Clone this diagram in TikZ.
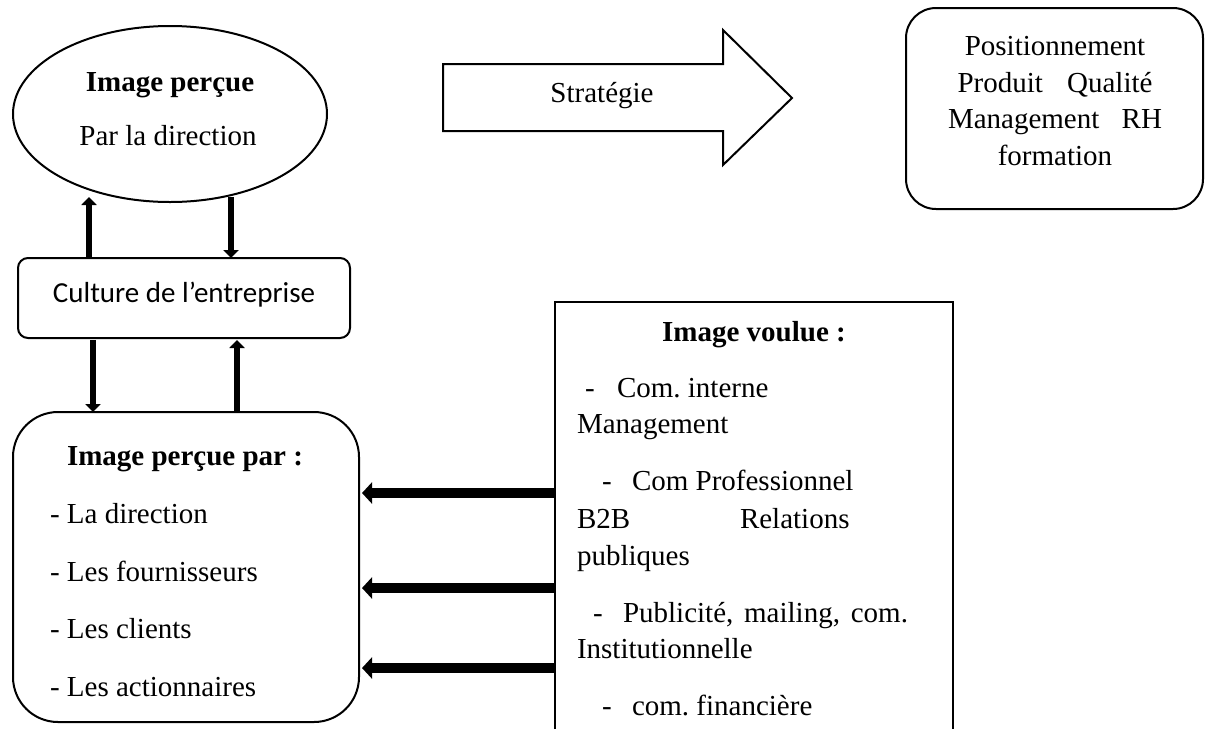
\documentclass[tikz,border=0pt]{standalone}
\usepackage{fontspec}
\setmainfont{Liberation Serif}
\newfontfamily\calib{Carlito}
\usetikzlibrary{arrows.meta,shapes.geometric}
\frenchspacing
\begin{document}
\begin{tikzpicture}[x=0.5pt,y=-0.5pt,
  every node/.style={font=\fontsize{14.5pt}{17pt}\selectfont\frenchspacing, inner sep=0pt, outer sep=0pt},
  box/.style={draw, line width=1pt},
  txt/.style={anchor=base},
  txtl/.style={anchor=base west},
  varrow/.style={-{Triangle[length=4pt,width=7.5pt]}, line width=3pt},
  harrow/.style={-{Triangle[length=5pt,width=10.5pt]}, line width=5pt}]
\useasboundingbox (0,0) rectangle (1205,729);

% ellipse
\node[box, ellipse, minimum width=157pt, minimum height=88pt] (ell) at (170,114) {};
\node[txt, font=\fontsize{14.5pt}{17pt}\selectfont\bfseries] (ellt1) at (170,91) {Image perçue};
\node[txt] (ellt2) at (168,145) {Par la direction};

% strategy block arrow
\draw[line width=1pt, line join=miter] (443,64) -- (723,64) -- (723,30) -- (792,98) -- (723,165) -- (723,131) -- (443,131) -- cycle;
\node[txt] (strat) at (602,102) {Stratégie};

% right box
\node[box, rounded corners=15pt, minimum width=148.5pt, minimum height=100.5pt] (pos) at (1054.5,108.5) {};
\node[txt] (pos1) at (1055,55) {Positionnement};
\node[txt] (pos2) at (1055,92) {\makebox[97.5pt][s]{Produit Qualité}};
\node[txt] (pos3) at (1055,128) {\makebox[107pt][s]{Management RH}};
\node[txt] (pos4) at (1055,165) {formation};

% culture box
\node[box, rounded corners=5pt, minimum width=166pt, minimum height=40pt] (culture) at (184,298) {};
\node[txt, font=\fontsize{14.5pt}{17pt}\calib] (culturet) at (184,302) {Culture de l’entreprise};

% perceived image box
\node[box, rounded corners=22.5pt, minimum width=173pt, minimum height=155pt] (perc) at (186,567) {};
\node[txtl, font=\fontsize{14.5pt}{17pt}\selectfont\bfseries] (perct) at (67,465) {Image perçue par :};
\node[txtl] (p1) at (50,523) {- La direction};
\node[txtl] (p2) at (50,581) {- Les fournisseurs};
\node[txtl] (p3) at (50,638) {- Les clients};
\node[txtl] (p4) at (50,696) {- Les actionnaires};

% wanted image box (open at the bottom)
\node[minimum width=199pt, minimum height=213.5pt] (voulue) at (754,515.5) {};
\draw[line width=1pt] (voulue.south west) -- (voulue.north west) -- (voulue.north east) -- (voulue.south east);
\node[txt, font=\fontsize{14.5pt}{17pt}\selectfont\bfseries] (vt) at (754,341) {Image voulue :};
\node[txtl] (v1a) at (585,397) {-};
\node[txtl] (v1b) at (617,397) {Com. interne};
\node[txtl] (v2) at (577,433) {Management};
\node[txtl] (v3a) at (602,490) {-};
\node[txtl] (v3b) at (632,490) {Com Professionnel};
\node[txtl] (v4a) at (577,528) {B2B};
\node[txtl] (v4b) at (740,528) {Relations};
\node[txtl] (v5) at (577,565) {publiques};
\node[txtl] (v6a) at (593,622) {-};
\node[txtl] (v6b) at (623,622) {\makebox[142.5pt][s]{Publicité, mailing, com.}};
\node[txtl] (v7) at (577,658) {Institutionnelle};
\node[txtl] (v8a) at (602,715) {-};
\node[txtl] (v8b) at (632,715) {com. financière};

% vertical arrows
\coordinate (u1) at (89,197);
\coordinate (d1) at (231,197);
\coordinate (d2) at (93,0);
\coordinate (u2) at (237,0);
\draw[varrow] (culture.north -| u1) -- (u1);
\draw[varrow] (d1) -- (culture.north -| d1);
\draw[varrow] ([yshift=-1pt]culture.south -| d2) -- (perc.north -| d2);
\draw[varrow] (perc.north -| u2) -- ([yshift=-1pt]culture.south -| u2);

% horizontal arrows
\coordinate (h1) at (0,493);
\coordinate (h2) at (0,588);
\coordinate (h3) at (0,668);
\draw[harrow] (voulue.west |- h1) -- ([xshift=1.5pt]perc.east |- h1);
\draw[harrow] (voulue.west |- h2) -- ([xshift=1.5pt]perc.east |- h2);
\draw[harrow] (voulue.west |- h3) -- ([xshift=1.5pt]perc.east |- h3);
\end{tikzpicture}
\end{document}
